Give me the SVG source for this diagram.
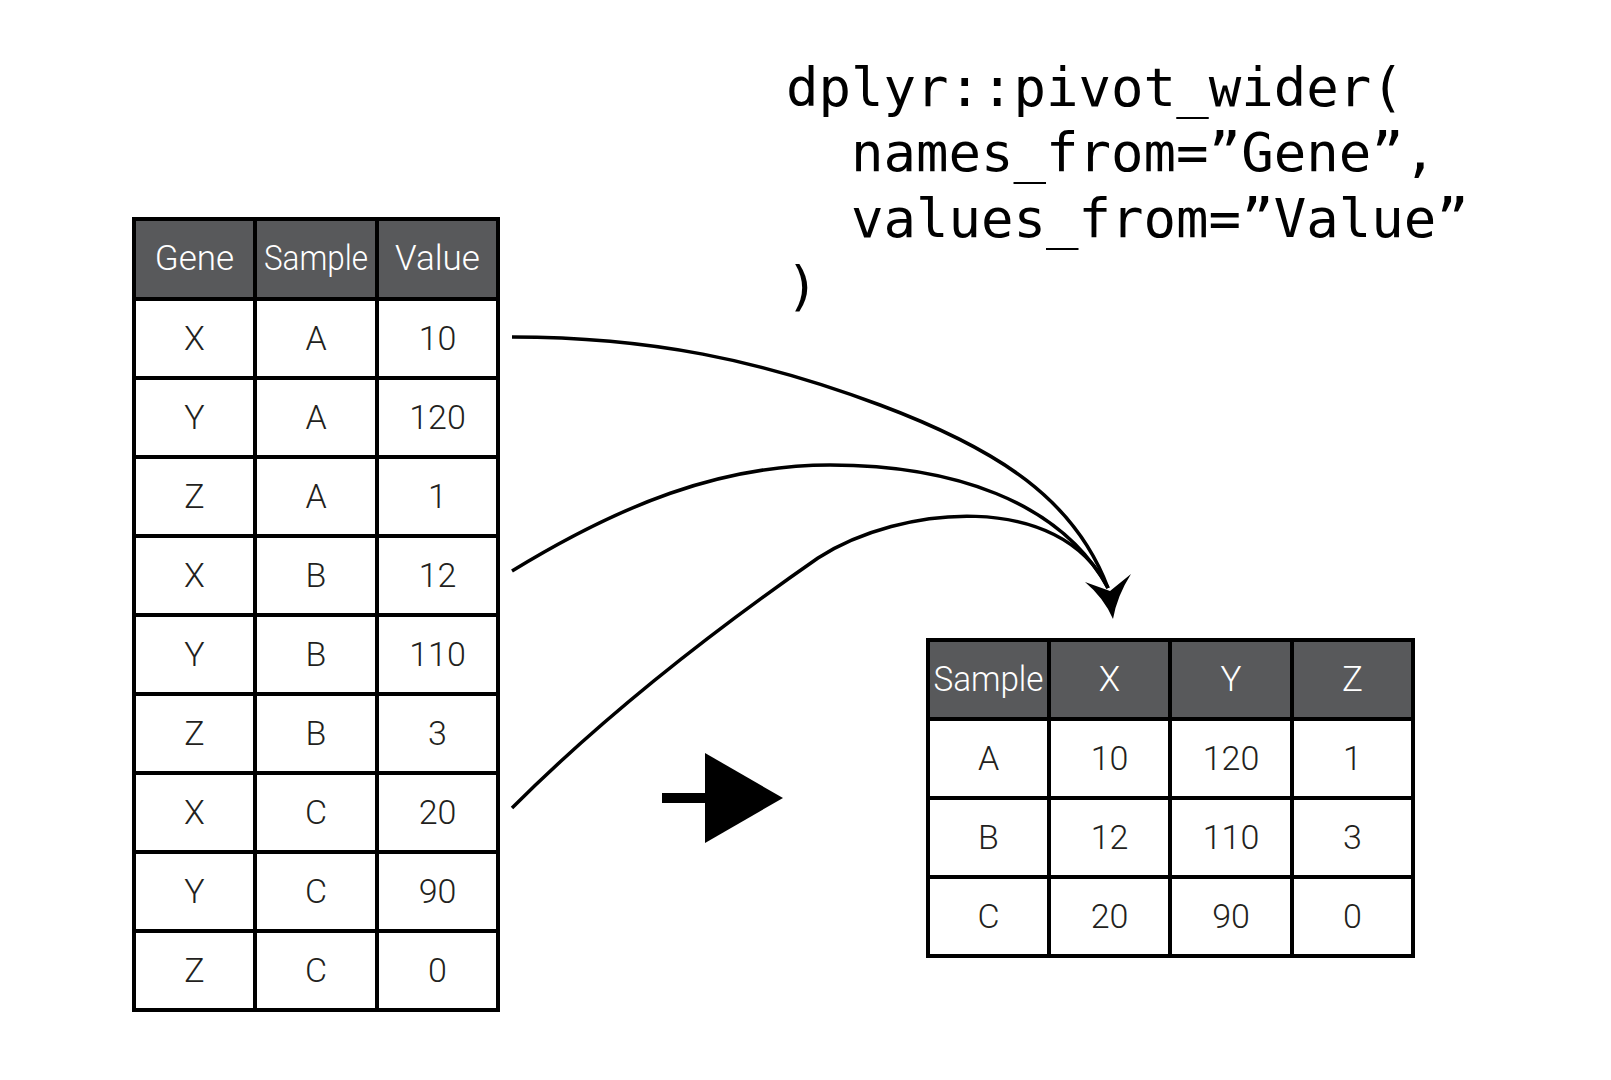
<svg xmlns="http://www.w3.org/2000/svg" width="1611" height="1080" viewBox="0 0 1611 1080">
<style>
.hdr{fill:#58595b}
.grid{fill:none;stroke:#000;stroke-width:4}
.t{font-family:Roboto,"Liberation Sans",sans-serif;font-weight:300;font-size:34px;text-anchor:middle;fill:#231f20}
.th{fill:#ffffff;font-size:35px}
.code{font-family:"DejaVu Sans Mono","Liberation Mono",monospace;font-size:54px;fill:#000}
.conn{fill:none;stroke:#000;stroke-width:3.5}
</style>
<rect width="1611" height="1080" fill="#fff"/>

<g id="long-table">
<rect class="hdr" x="134" y="219" width="364" height="80"/>
<rect class="grid" x="134" y="219" width="364" height="791"/>
<path class="grid" d="M255,219V1010M377,219V1010M134,299H498M134,378H498M134,457H498M134,536H498M134,615H498M134,694H498M134,773H498M134,852H498M134,931H498"/>
<text class="t th" x="194.5" y="270">Gene</text>
<text class="t th" x="316" y="270" textLength="104" lengthAdjust="spacingAndGlyphs">Sample</text>
<text class="t th" x="437.5" y="270">Value</text>
<text class="t" x="194.5" y="349.5">X</text><text class="t" x="316" y="349.5">A</text><text class="t" x="437.5" y="349.5">10</text>
<text class="t" x="194.5" y="428.5">Y</text><text class="t" x="316" y="428.5">A</text><text class="t" x="437.5" y="428.5">120</text>
<text class="t" x="194.5" y="507.5">Z</text><text class="t" x="316" y="507.5">A</text><text class="t" x="437.5" y="507.5">1</text>
<text class="t" x="194.5" y="586.5">X</text><text class="t" x="316" y="586.5">B</text><text class="t" x="437.5" y="586.5">12</text>
<text class="t" x="194.5" y="665.5">Y</text><text class="t" x="316" y="665.5">B</text><text class="t" x="437.5" y="665.5">110</text>
<text class="t" x="194.5" y="744.5">Z</text><text class="t" x="316" y="744.5">B</text><text class="t" x="437.5" y="744.5">3</text>
<text class="t" x="194.5" y="823.5">X</text><text class="t" x="316" y="823.5">C</text><text class="t" x="437.5" y="823.5">20</text>
<text class="t" x="194.5" y="902.5">Y</text><text class="t" x="316" y="902.5">C</text><text class="t" x="437.5" y="902.5">90</text>
<text class="t" x="194.5" y="981.5">Z</text><text class="t" x="316" y="981.5">C</text><text class="t" x="437.5" y="981.5">0</text>
</g>

<g id="wide-table">
<rect class="hdr" x="928" y="640" width="485" height="79"/>
<rect class="grid" x="928" y="640" width="485" height="316"/>
<path class="grid" d="M1049,640V956M1170,640V956M1292,640V956M928,719H1413M928,798H1413M928,877H1413"/>
<text class="t th" x="988.5" y="691" textLength="110" lengthAdjust="spacingAndGlyphs">Sample</text>
<text class="t th" x="1109.5" y="691">X</text>
<text class="t th" x="1231" y="691">Y</text>
<text class="t th" x="1352.5" y="691">Z</text>
<text class="t" x="988.5" y="769.5">A</text><text class="t" x="1109.5" y="769.5">10</text><text class="t" x="1231" y="769.5">120</text><text class="t" x="1352.5" y="769.5">1</text>
<text class="t" x="988.5" y="848.5">B</text><text class="t" x="1109.5" y="848.5">12</text><text class="t" x="1231" y="848.5">110</text><text class="t" x="1352.5" y="848.5">3</text>
<text class="t" x="988.5" y="927.5">C</text><text class="t" x="1109.5" y="927.5">20</text><text class="t" x="1231" y="927.5">90</text><text class="t" x="1352.5" y="927.5">0</text>
</g>

<g id="code">
<text class="code" x="786" y="106">dplyr::pivot_wider(</text>
<text class="code" x="851" y="171">names_from=”Gene”,</text>
<text class="code" x="851" y="237">values_from=”Value”</text>
<text class="code" x="786" y="305">)</text>
</g>

<g id="transform-arrow">
<rect x="662" y="793" width="45" height="10" fill="#000"/>
<polygon points="705,753 783,798 705,843" fill="#000"/>
</g>

<g id="connectors">
<path class="conn" d="M512,337 C650,337 760,360 880,405 C1000,450 1075,500 1108,588"/>
<path class="conn" d="M512,571 C620,505 720,465 830,465 C950,465 1060,500 1108,588"/>
<path class="conn" d="M512,808 C600,720 700,640 818,558 C900,505 1060,490 1108,588"/>
<path d="M1110,591 L1085,582 Q1104,598 1113,619 Q1117,596 1131,574 Z" fill="#000"/>
</g>
</svg>
